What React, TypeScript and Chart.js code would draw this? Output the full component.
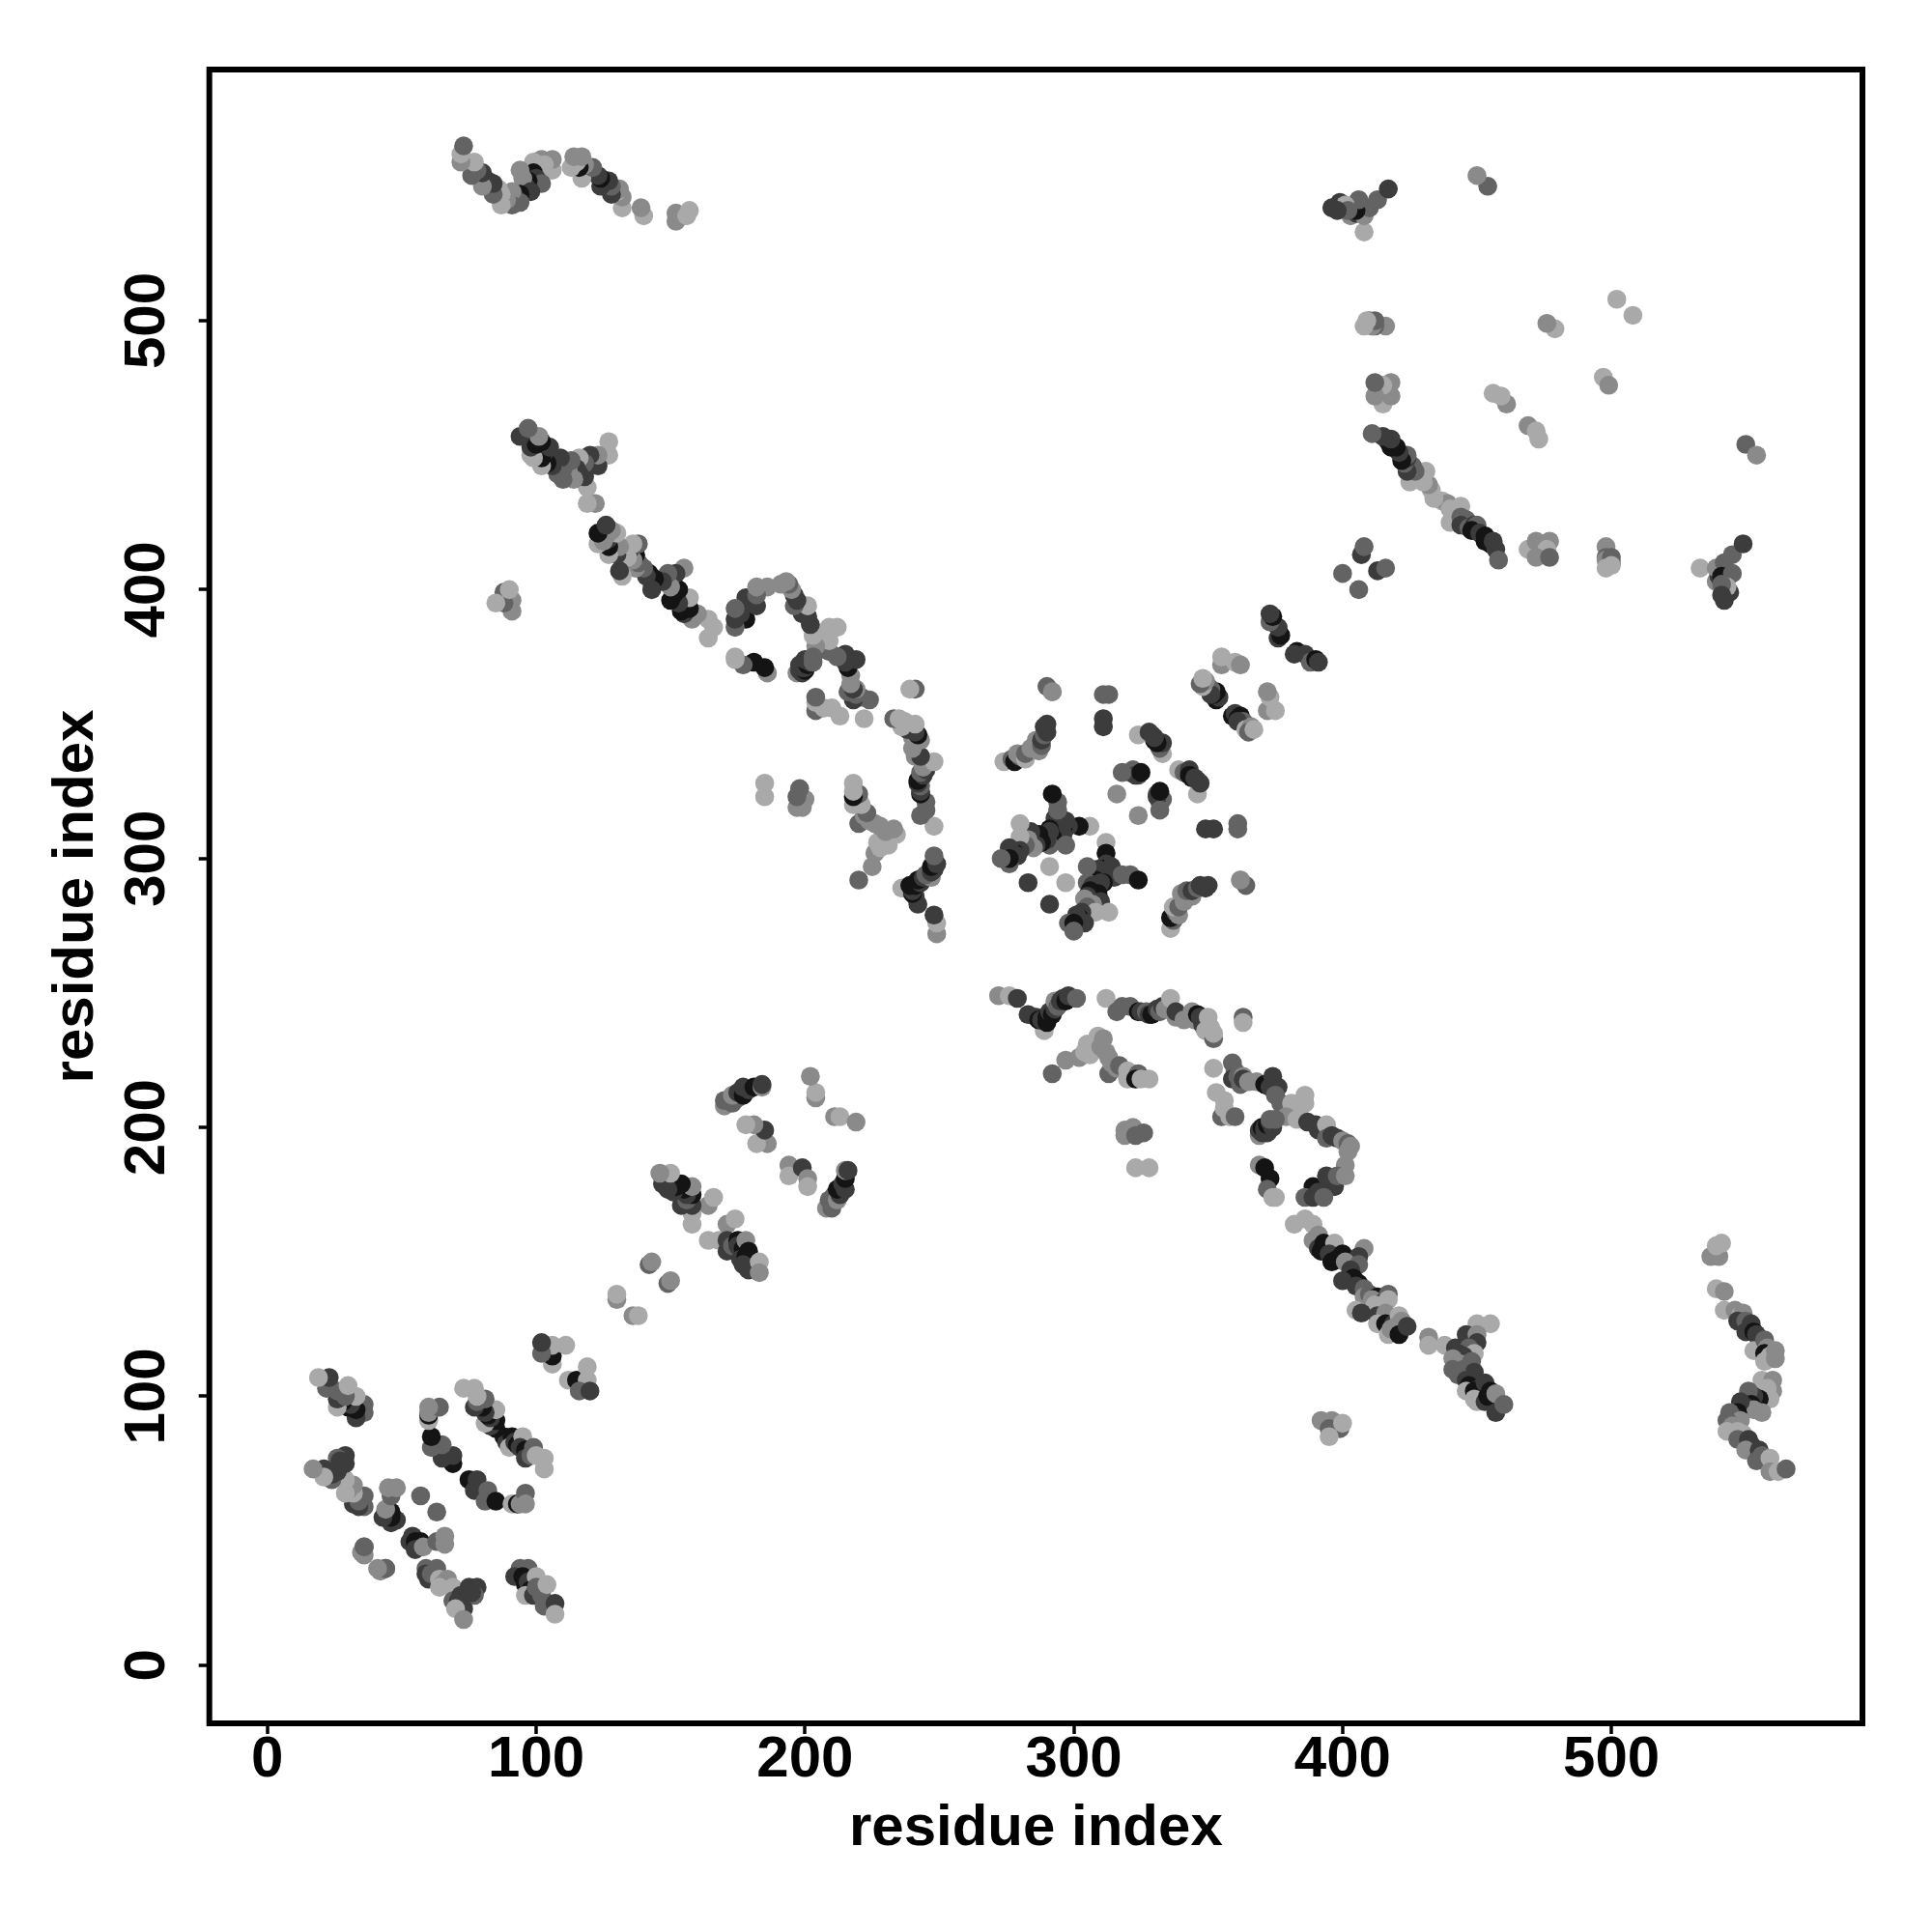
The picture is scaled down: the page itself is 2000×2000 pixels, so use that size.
import React, { useEffect, useRef } from "react";
import { Chart, registerables } from "chart.js";

Chart.register(...registerables);

// Contact map: each entry is [residue i, residue j, grey level index], with i > j.
// The map is symmetric, so every contact is also shown at (j, i).
const greyLevels = ["#a9a9a9", "#8a8a8a", "#636363", "#3c3c3c", "#141414"];
const L = 0, M = 1, D = 2, K = 3, B = 4;
type Contact = [number, number, number];

const sheetA: Contact[] = [
  [94,36,D],[92,33,K],[97,36,D],[95,33,B],[96,30,B],[97,31,K],[98,28,B],[100,33,L],[96,26,L],[99,26,K],[100,29,D],
  [102,26,D],[104,30,L],[103,22,D],[107,23,K],[107,19,L],
];
const sheetB: Contact[] = [
  [54,48,K],[53,46,K],[56,45,K],[57,46,B],[55,46,B],[55,43,K],[58,44,M],[63,46,D],[66,48,M],[66,45,M],[59,36,D],[63,36,D],[60,32,K],
  [59,34,K],[61,34,D],[64,32,L],[67,32,M],[65,30,M],[64,29,L],[69,29,L],[69,24,D],[75,29,K],[78,29,K],[77,26,D],[76,27,K],
  [72,26,K],[71,24,K],[73,21,K],[70,21,L],[73,17,M],
  [63,57,D],[36,44,D],[36,41,M],[42,35,M],[44,36,D],
];
const sheetC: Contact[] = [
  [75,69,B],[78,69,K],[77,65,K],[82,65,D],[81,61,D],[85,61,B],[91,60,L],[93,60,B],[94,60,M],[96,64,D],[96,60,M],
  [88,85,B],[89,83,K],[91,85,B],[90,81,L],[92,83,K],[93,82,B],[95,85,L],[94,81,K],[96,80,B],[99,81,D],[96,77,K],[98,78,D],[100,78,L],[103,77,L],[103,73,L],
  [112,106,L],[115,106,B],[119,111,L],[119,106,L],[116,102,D],[120,102,K],
  [136,130,M],[138,130,L],[149,142,D],[150,143,M],
];
const sheetD: Contact[] = [
  [164,158,L],[168,158,L],[171,164,M],[174,166,L],[171,158,K],[171,154,K],[173,156,D],[175,158,B],[175,156,K],[177,155,B],[178,158,M],[176,151,K],
  [178,152,B],[179,154,B],[177,149,K],[179,147,K],[183,150,L],[183,146,M],[194,186,M],[194,182,L],[199,185,K],[201,181,M],[201,178,L],
  [208,170,M],[210,170,D],[209,173,D],[211,175,D],[212,173,M],[213,175,K],[212,177,B],[214,179,K],[215,177,K],[215,181,B],[215,184,M],[216,184,K],
  [211,204,M],[213,204,L],[219,202,M],
];
const helixE: Contact[] = [
  [272,249,M],[276,249,L],[279,248,K],[283,242,K],[289,236,L],[286,241,K],[287,240,B],[288,240,K],[290,239,B],[290,241,B],[291,243,K],[292,242,B],[293,244,K],
  [293,247,M],[294,245,D],[295,247,K],[296,248,K],[297,247,B],[298,249,K],[301,248,D],[312,248,L],[316,243,D],[318,245,D],[321,245,D],[324,243,B],
  [325,243,K],[327,243,D],[328,242,K],[329,242,B],[331,244,K],[332,243,D],[333,245,K],[334,244,M],[336,248,L],[338,241,M],[338,243,K],[341,240,M],[344,243,M],[345,240,M],[346,242,B],
  [347,241,K],[348,238,K],[349,236,L],[350,241,L],[351,237,L],[352,233,D],[352,235,L],[363,241,D],[363,239,L],
];
const branchF: Contact[] = [
  [292,220,D],[297,225,M],[302,226,M],[304,228,L],[305,231,L],[306,227,L],[307,230,L],[308,229,L],[309,234,L],[310,230,M],[311,233,M],[312,228,M],[313,226,M],[313,220,D],
  [314,224,M],[316,222,M],[317,223,D],[320,221,L],[320,218,L],[322,220,L],[324,220,D],[323,218,B],[325,218,L],[328,218,L],
  [319,197,M],[319,199,M],[322,200,M],[323,197,D],[326,198,D],[323,185,L],[328,185,L],
];
const strandG: Contact[] = [
  [352,222,L],[359,224,D],[360,221,D],[359,218,K],[362,216,D],[361,219,D],[363,219,M],[363,218,K],[365,217,M],[368,217,M],[371,216,B],[374,219,K],
  [373,215,K],[376,215,K],[375,212,D],[377,209,D],[378,207,D],[381,209,L],[384,207,L],[386,212,L],[386,209,L],[379,204,M],[383,203,L],[387,202,K],
  [390,201,K],[391,199,K],[394,201,L],[394,196,D],[396,197,K],[398,196,K],[400,195,M],[402,194,D],[403,193,M],[402,191,M],
  [369,197,M],[369,199,K],[370,198,K],[370,200,B],[371,199,K],[371,200,K],[372,198,K],[372,201,B],[373,202,K],[374,200,K],[373,203,D],[375,203,D],
  [353,213,L],[356,210,L],[355,204,D],[356,207,L],[358,204,L],[360,204,D],
  [401,186,M],[389,178,B],[393,178,B],[396,179,K],[397,178,K],[394,182,K],[398,182,D],[401,182,M],
  [386,174,D],[389,174,K],[391,176,K],[393,174,D],[369,186,M],[371,185,B],[373,181,B],[372,177,D],[374,174,L],[375,174,L],
];
const strandH: Contact[] = [
  [382,164,L],[386,166,L],[389,164,L],[389,158,M],[391,160,M],[391,155,K],[392,154,B],[393,157,B],[394,156,B],[397,157,L],[395,153,K],[396,150,B],[398,151,B],[400,153,B],
  [408,155,M],[406,152,K],[401,150,M],[406,149,D],[403,147,K],[404,144,B],[400,143,K],[406,142,B],[405,141,K],[408,140,D],[408,137,M],[410,138,D],[413,137,B],[411,136,M],
  [415,135,K],[417,138,D],[417,136,L],[412,134,L],[405,132,L],[407,131,K],[413,130,K],[416,131,M],[413,127,L],[416,127,B],[419,127,K],[421,130,L],
  [422,128,M],[420,126,M],[417,123,L],[418,125,M],[421,123,B],[424,126,K],[432,122,M],[432,119,L],[438,119,L],
];
const strandI: Contact[] = [
  [442,118,K],[450,127,L],[455,127,L],[446,123,K],[450,123,M],[450,120,K],[447,118,D],[443,116,K],[449,116,L],[445,115,K],[441,114,M],
  [444,112,M],[448,113,D],[441,110,D],[445,110,D],[449,109,K],[443,108,D],[446,106,K],[447,104,B],[451,103,K],[446,102,L],[449,102,B],[453,105,K],[455,102,B],[449,99,L],[450,98,L],[453,98,K],
  [454,100,B],[457,101,M],[457,94,K],[460,97,D],
  [392,91,M],[396,91,M],[395,88,D],[399,88,D],[400,90,L],[395,85,L],
];
const helixJ: Contact[] = [
  [537,152,M],[540,152,M],[539,156,L],[541,157,L],[539,140,L],[542,139,M],[542,132,L],[546,132,M],[548,130,L],[549,131,M],
  [547,128,K],[550,128,D],[550,124,K],[552,127,K],[553,124,B],[554,123,K],[553,117,L],[557,121,D],[558,118,M],[557,116,B],[557,113,L],[559,115,L],[561,117,M],[561,114,M],
  [556,106,L],[560,106,M],[560,102,M],[558,103,L],[559,99,L],[555,99,B],[553,100,K],[551,102,D],[552,97,B],[550,96,K],[556,94,M],[553,95,M],
  [548,98,K],[547,94,B],[546,92,K],[544,94,D],[548,91,M],[543,91,D],[545,89,M],[543,87,L],[547,87,L],[549,86,L],[547,84,D],[551,84,K],[552,82,K],[550,80,M],
  [555,80,K],[556,78,D],[554,76,D],[559,77,L],[559,72,M],[562,72,L],[565,73,D],
];
const coreK: Contact[] = [
  [312,306,L],[312,302,B],[312,298,K],[311,296,B],[313,295,B],[310,294,K],[309,296,K],[315,293,K],[308,292,B],
  [305,297,D],[305,291,D],[297,291,L],[291,283,K],[314,297,K],[315,295,K],
  [318,294,D],[321,294,D],[324,292,B],[311,291,B],[310,291,K],[307,290,K],[309,287,B],[306,288,B],[305,286,K],[310,284,K],[304,285,M],[307,283,M],[305,282,D],[313,280,L],
  [308,280,L],[303,280,K],[302,278,B],[304,276,K],[301,279,K],[298,276,D],[300,276,B],[300,273,D],
];
const coreL: Contact[] = [
  [336,274,L],[337,277,D],[336,278,B],[338,280,D],[339,279,M],[337,282,L],[339,282,D],[341,284,M],[340,287,M],[344,286,M],[342,288,D],[344,288,K],[346,289,D],[347,290,K],[349,289,K],[350,290,K],
  [349,311,K],[352,311,K],[361,311,D],[361,313,D],[362,292,L],[364,290,D],[362,292,M],
  [324,316,M],[331,324,D],[332,321,D],[333,322,D],[331,323,K],[332,318,D],[332,325,B],
  [339,333,L],[341,332,D],[343,333,K],[344,330,B],[343,331,B],[345,330,K],[346,329,K],[346,324,L],[347,328,K],
  [359,353,B],[360,354,K],[361,352,B],[362,353,B],[363,351,D],[364,350,D],[361,351,K],[364,348,L],[366,349,M],[365,347,D],[367,348,L],
  [372,355,M],[375,355,L],[373,360,L],[372,362,M],
  [376,382,K],[383,377,B],[386,376,K],[388,373,D],[390,374,B],[391,373,K],
];
const farM: Contact[] = [
  [406,400,D],[413,407,K],[416,408,D],
  [533,408,L],[539,403,M],[540,405,K],[539,408,M],[542,410,D],[541,405,B],[545,413,D],[545,406,D],[549,417,K],[544,399,K],[543,401,L],[541,402,D],[541,398,K],[542,396,K],
  [550,454,D],[554,450,M],[508,502,L],[497,479,L],[499,476,M],
  [469,461,M],[472,459,L],[473,456,L],[469,415,L],[472,418,M],[477,418,M],[474,414,M],[476,415,L],[472,412,M],[477,412,D],
  [498,416,M],[498,412,D],[498,411,M],[500,412,D],[500,410,D],[498,408,L],[500,409,L],
  [434,434,L],[437,433,L],[439,432,M],[440,430,L],[442,429,L],[444,431,L],[440,425,L],[444,427,D],[445,425,M],[446,426,D],[444,424,K],[447,423,D],[449,424,K],[450,424,D],
  [448,422,B],[451,421,K],[453,420,B],[453,418,B],[455,417,B],[456,418,K],[457,415,K],[458,411,D],
];

const contacts: Contact[] = [
  ...sheetA, ...sheetB, ...sheetC, ...sheetD, ...helixE, ...branchF, ...strandG,
  ...strandH, ...strandI, ...helixJ, ...coreK, ...coreL, ...farM,
];

const axisTicks = [0, 100, 200, 300, 400, 500];
const axisLabel = "residue index";
const axisMin = -21.6;
const axisMax = 593.4;

const boxPlugin = {
  id: "box",
  afterDraw(chart: any) {
    const { ctx, chartArea: a } = chart;
    ctx.save();
    ctx.strokeStyle = "#000";
    ctx.lineWidth = 6;
    ctx.strokeRect(a.left, a.top, a.right - a.left, a.bottom - a.top);
    ctx.restore();
  },
};

export default function App() {
  const ref = useRef<HTMLCanvasElement>(null);
  useEffect(() => {
    const font = { family: "'Liberation Sans'", size: 60, weight: "bold" as const };
    const common = (extraTicks: object, pad: object) => ({
      type: "linear" as const,
      min: axisMin,
      max: axisMax,
      afterBuildTicks: (s: any) => {
        s.ticks = axisTicks.map((value) => ({ value }));
      },
      border: { display: false },
      grid: { display: true, drawOnChartArea: false, drawTicks: true, tickLength: 11, tickWidth: 3.5, tickColor: "#000", lineWidth: 0 },
      ticks: { color: "#000", font, autoSkip: false, ...extraTicks },
      title: { display: true, text: axisLabel, color: "#000", font, padding: pad },
    });
    const chart = new Chart(ref.current!, {
      type: "scatter",
      data: {
        datasets: [
          {
            data: [
              ...contacts.map((c) => ({ x: c[0], y: c[1] })),
              ...contacts.map((c) => ({ x: c[1], y: c[0] })),
            ],
            pointRadius: 9.8,
            pointBorderWidth: 0,
            pointBackgroundColor: [...contacts, ...contacts].map((c) => greyLevels[c[2]]),
          },
        ],
      },
      options: {
        animation: false,
        responsive: false,
        layout: { padding: { top: 72, right: 72, left: 0, bottom: 0 } },
        plugins: { legend: { display: false }, tooltip: { enabled: false } },
        scales: {
          x: {
            ...common({ padding: -9, maxRotation: 0, minRotation: 0 }, { top: 0, bottom: 71 }),
            afterFit: (s: any) => { s.height = 216; },
          },
          y: {
            ...common({ padding: 2, maxRotation: 90, minRotation: 90, crossAlign: "center" }, { top: 43, bottom: 0 }),
            afterFit: (s: any) => { s.width = 216.7; },
          },
        },
      },
      plugins: [boxPlugin],
    } as any);
    return () => chart.destroy();
  }, []);
  return (
    <div style={{ position: "absolute", left: 0, top: 0, width: 2000, height: 2000, background: "#fff" }}>
      <canvas ref={ref} width={2000} height={2000} style={{ display: "block" }} />
    </div>
  );
}
